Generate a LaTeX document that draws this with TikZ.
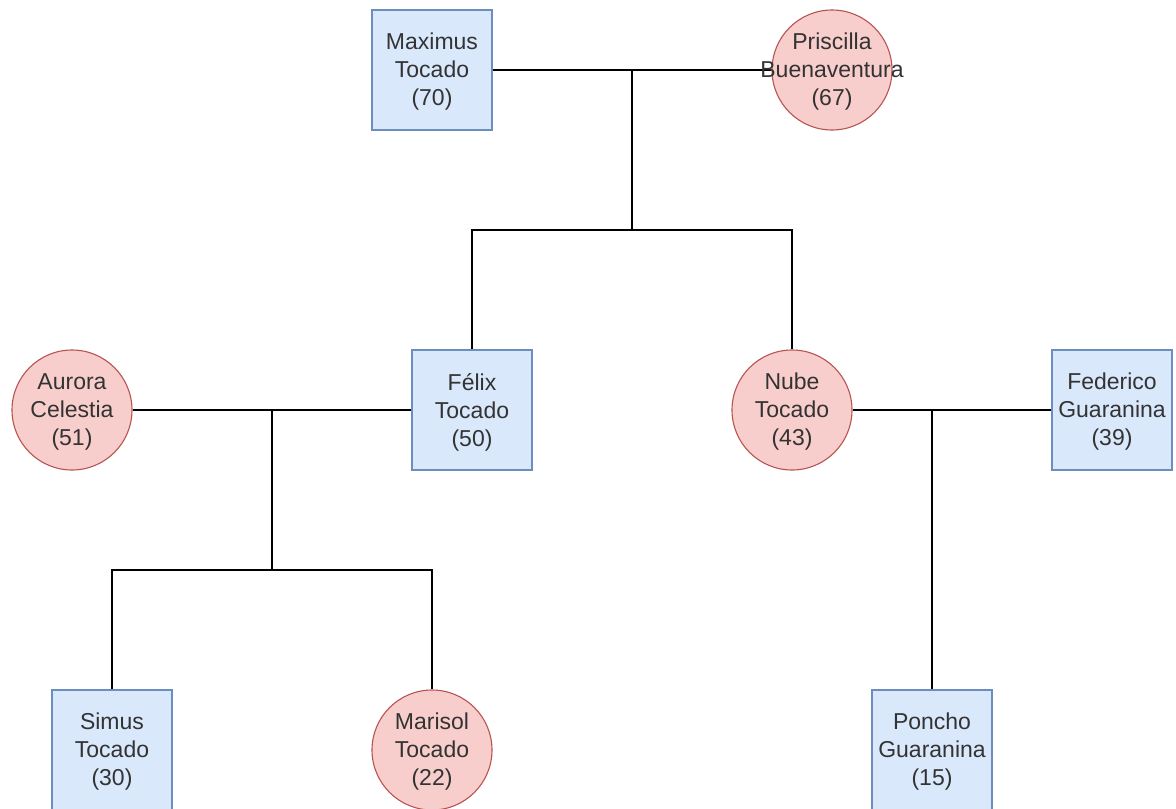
\documentclass[tikz,border=0pt]{standalone}
\usepackage{fontspec}
\setmainfont{Liberation Sans}
\begin{document}
\definecolor{boyfill}{HTML}{DAE8FC}
\definecolor{boydraw}{HTML}{6C8EBF}
\definecolor{girlfill}{HTML}{F8CECC}
\definecolor{girldraw}{HTML}{B85450}
\definecolor{txt}{HTML}{333333}
\begin{tikzpicture}[x=1pt,y=1pt,
  person/.style={minimum size=120pt, inner sep=0pt, align=center, text=txt,
    font=\fontsize{23}{28}\selectfont, line width=1.1pt},
  boy/.style={person, rectangle, fill=boyfill, draw=boydraw},
  girl/.style={person, circle, fill=girlfill, draw=girldraw},
  namelabel/.style={align=center, text=txt, font=\fontsize{23}{28}\selectfont,
    inner sep=0pt, yshift=-2pt},
  link/.style={line width=1.7pt, black}]
\useasboundingbox (0,0) rectangle (1176,-809);
\fill[white] (0,0) rectangle (1176,-809);

% junction points of the family lines
\coordinate (c1) at (632,-70);
\coordinate (c1b) at (632,-230);
\coordinate (c2) at (272,-410);
\coordinate (c2b) at (272,-570);
\coordinate (c3) at (932,-410);

% people
\node[boy]  (max) at (432,-70)  {};
\node[girl] (pri) at (832,-70)  {};
\node[boy]  (fel) at (472,-410) {};
\node[girl] (nub) at (792,-410) {};
\node[girl] (aur) at (72,-410)  {};
\node[boy]  (fed) at (1112,-410) {};
\node[boy]  (sim) at (112,-750) {};
\node[girl] (mar) at (432,-750) {};
\node[boy]  (pon) at (932,-750) {};

% couples and children
\draw[link] (max.east) -- (pri.west);
\draw[link] (c1) -- (c1b);
\draw[link] (fel.north) |- (c1b) -| (nub.north);
\draw[link] (aur.east) -- (fel.west);
\draw[link] (c2) -- (c2b);
\draw[link] (sim.north) |- (c2b) -| (mar.north);
\draw[link] (nub.east) -- (fed.west);
\draw[link] (c3) -- (pon.north);

% names and ages, set over the lines
\node[namelabel] (tmax) at (max.center) {Maximus\\Tocado\\(70)};
\node[namelabel] (tpri) at (pri.center) {Priscilla\\Buenaventura\\(67)};
\node[namelabel] (tfel) at (fel.center) {Félix\\Tocado\\(50)};
\node[namelabel] (tnub) at (nub.center) {Nube\\Tocado\\(43)};
\node[namelabel] (taur) at (aur.center) {Aurora\\Celestia\\(51)};
\node[namelabel] (tfed) at (fed.center) {Federico\\Guaranina\\(39)};
\node[namelabel] (tsim) at (sim.center) {Simus\\Tocado\\(30)};
\node[namelabel] (tmar) at (mar.center) {Marisol\\Tocado\\(22)};
\node[namelabel] (tpon) at (pon.center) {Poncho\\Guaranina\\(15)};
\end{tikzpicture}
\end{document}
